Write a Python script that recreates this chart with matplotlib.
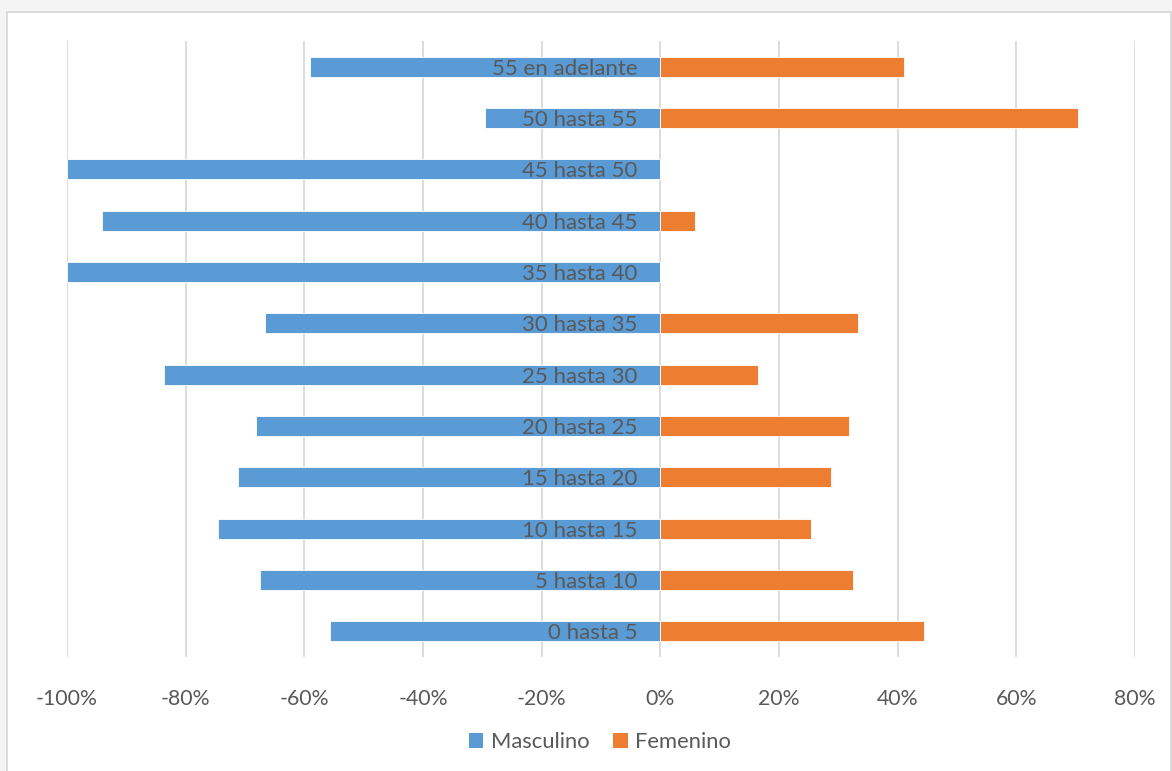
import matplotlib
matplotlib.use("Agg")
import matplotlib.pyplot as plt
from matplotlib.patches import Rectangle, Patch
from matplotlib.ticker import FuncFormatter

plt.rcParams['font.family'] = ['Lato', 'DejaVu Sans']

categories = ["0 hasta 5", "5 hasta 10", "10 hasta 15", "15 hasta 20", "20 hasta 25",
              "25 hasta 30", "30 hasta 35", "35 hasta 40", "40 hasta 45", "45 hasta 50",
              "50 hasta 55", "55 en adelante"]
masculino = [-55.6, -67.5, -74.6, -71.2, -68.2, -83.6, -66.7, -100.0, -94.1, -100.0, -29.6, -59.0]
femenino = [44.4, 32.5, 25.4, 28.8, 31.8, 16.4, 33.3, 0.0, 5.9, 0.0, 70.4, 41.0]
xticks = [-100, -80, -60, -40, -20, 0, 20, 40, 60, 80]

blue = '#5B9BD5'
orange = '#ED7D31'
txt = '#595959'
grid = '#D9D9D9'

W, H = 1172, 771
fig = plt.figure(figsize=(W / 100, H / 100), dpi=100)
fig.patch.set_facecolor('#F4F4F4')
# chart area background
bg = fig.add_axes([0, 0, 1, 1], zorder=0)
bg.set_xlim(0, W)
bg.set_ylim(H, 0)
bg.axis('off')
bg.add_patch(Rectangle((7, 12), W - 8, H, facecolor='white', edgecolor='#D9D9D9', linewidth=1.3))

ax = fig.add_axes([67 / W, 1 - 657 / H, (1135 - 67) / W, 616 / H], zorder=2)
ax.set_facecolor('none')
y = list(range(len(categories)))
ax.barh(y, masculino, height=0.39, color=blue, edgecolor='white', linewidth=0.6, zorder=3)
ax.barh(y, femenino, height=0.39, color=orange, edgecolor='white', linewidth=0.6, zorder=3)

ax.set_xlim(-100, 80)
ax.set_ylim(-0.5, len(categories) - 0.5)
ax.set_xticks(xticks)
ax.xaxis.set_major_formatter(FuncFormatter(lambda v, p: f"{int(round(v))}%"))
ax.tick_params(axis='x', length=0, pad=23, labelsize=15.3, labelcolor=txt)
ax.set_yticks([])
ax.grid(axis='x', color=grid, linewidth=1.3, zorder=0)
for s in ax.spines.values():
    s.set_visible(False)

for yi, c in zip(y, categories):
    ax.annotate(c, xy=(0, yi), xytext=(-16.5, 0), textcoords='offset points',
                ha='right', va='center_baseline', fontsize=16, color=txt, zorder=4)

handles = [Patch(facecolor=blue, label='Masculino'), Patch(facecolor=orange, label='Femenino')]
fig.legend(handles=handles, loc='center', bbox_to_anchor=(600 / W, 1 - 742 / H), ncol=2,
           frameon=False, fontsize=15.8, labelcolor=txt, handlelength=0.65, handleheight=0.65,
           handletextpad=0.35, columnspacing=1.1)

fig.savefig('out.png', dpi=100, facecolor=fig.get_facecolor())
